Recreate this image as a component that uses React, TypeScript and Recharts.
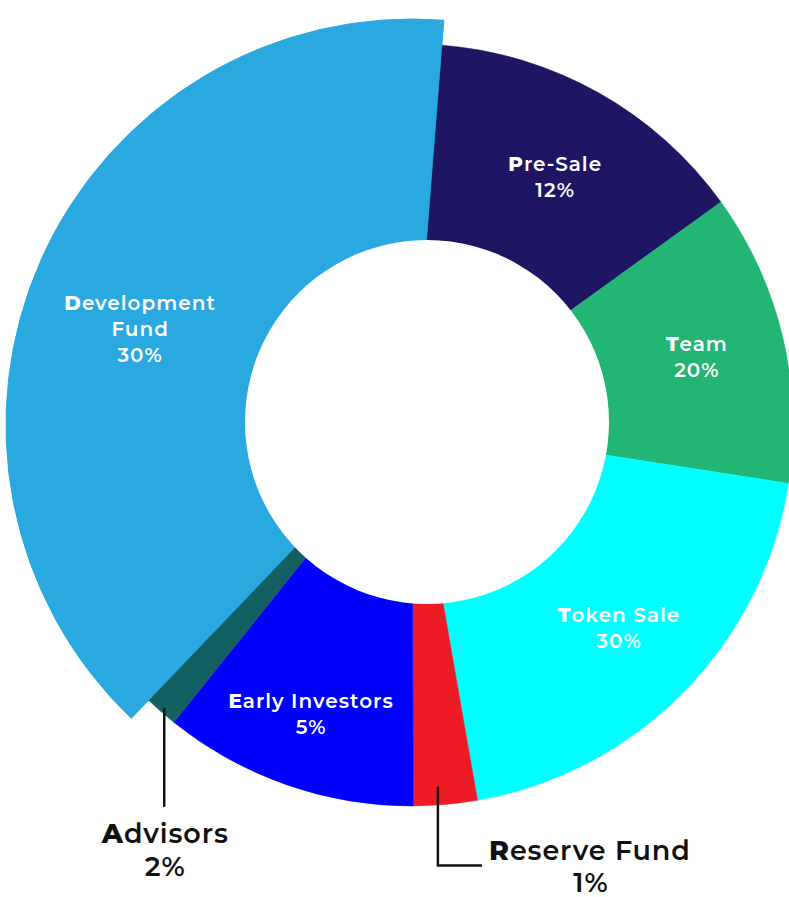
import { PieChart, Pie, Cell } from 'recharts';

const categories = ['Pre-Sale', 'Team', 'Token Sale', 'Reserve Fund', 'Early Investors', 'Advisors', 'Development Fund'];
// slice sizes as drawn (the printed percentages do not match the drawn angles)
const sliceValues = [13.8, 12.4, 19.8, 2.7, 10.8, 1.4, 39.1];
const shownPercents = ['12%', '20%', '30%', '1%', '5%', '2%', '30%'];
const labelLines = [['Pre-Sale'], ['Team'], ['Token Sale'], ['Reserve Fund'], ['Early Investors'], ['Advisors'], ['Development', 'Fund']];
const colors = ['#1e1563', '#22b573', '#00ffff', '#ed1c24', '#0000ff', '#136063', '#29a9e0'];

const data = categories.map((name, i) => ({ name, value: sliceValues[i] }));
const hole = [{ name: 'hole', value: 1 }];

const RAD = Math.PI / 180;
const FONT = 'Montserrat, Inter, "Noto Sans", sans-serif';
const CX = 412;
const CY = 425;

// where the inside labels sit (distance from centre) plus small hand nudges
const labelRadius: Record<number, number> = { 0: 286, 1: 293, 2: 290, 4: 306, 6: 288 };
const labelNudge: Record<number, [number, number]> = { 0: [3, 1], 6: [-9, 22] };

function FirstBold({ text }: { text: string }) {
  return (
    <>
      <tspan fontWeight={800}>{text[0]}</tspan>
      <tspan>{text.slice(1)}</tspan>
    </>
  );
}

const outerText = { fill: '#111', fontFamily: FONT, fontSize: 27, fontWeight: 600, letterSpacing: 0.9 };
const innerText = { fill: '#fff', fontFamily: FONT, fontSize: 20, fontWeight: 600, letterSpacing: 1 };

function renderLabel(props: any) {
  const { cx, cy, midAngle, index } = props;
  const polar = (r: number) => ({
    x: cx + r * Math.cos(-midAngle * RAD),
    y: cy + r * Math.sin(-midAngle * RAD),
  });

  if (index === 5) {
    // Advisors: straight line down, text below
    const p = polar(376);
    const endY = p.y + 99;
    return (
      <g key={`lbl-${index}`}>
        <line x1={p.x} y1={p.y} x2={p.x} y2={endY} stroke="#111" strokeWidth={2.5} />
        <text x={p.x + 1} y={endY + 36} textAnchor="middle" {...outerText}>
          <FirstBold text={labelLines[index][0]} />
        </text>
        <text x={p.x + 1} y={endY + 69} textAnchor="middle" {...outerText}>
          {shownPercents[index]}
        </text>
      </g>
    );
  }

  if (index === 3) {
    // Reserve Fund: elbow line down then right
    const p = polar(363);
    const x = p.x - 6;
    const endY = p.y + 79;
    return (
      <g key={`lbl-${index}`}>
        <polyline points={`${x},${p.y} ${x},${endY} ${x + 44},${endY}`} fill="none" stroke="#111" strokeWidth={2.5} />
        <text x={x + 152} y={p.y + 73} textAnchor="middle" {...outerText}>
          <FirstBold text={labelLines[index][0]} />
        </text>
        <text x={x + 153} y={p.y + 105} textAnchor="middle" {...outerText}>
          {shownPercents[index]}
        </text>
      </g>
    );
  }

  const c = polar(labelRadius[index] ?? 290);
  const [nx, ny] = labelNudge[index] ?? [0, 0];
  const lines = [...labelLines[index], shownPercents[index]];
  const step = 26;
  return (
    <g key={`lbl-${index}`}>
      {lines.map((ln, i) => (
        <text
          key={i}
          x={c.x + nx}
          y={c.y + ny + (i - (lines.length - 1) / 2) * step + 7}
          textAnchor="middle"
          {...innerText}
        >
          {i === 0 ? <FirstBold text={ln} /> : ln}
        </text>
      ))}
    </g>
  );
}

export default function App() {
  return (
    <div style={{ position: 'absolute', left: 0, top: 0, width: 789, height: 897, background: '#fff' }}>
      <PieChart width={789} height={897} margin={{ top: 0, right: 0, bottom: 0, left: 0 }}>
        {/* Development Fund sticks out further than the rest */}
        <Pie
          data={data}
          dataKey="value"
          cx={CX}
          cy={CY}
          innerRadius={160}
          outerRadius={406}
          startAngle={85.5}
          endAngle={-274.5}
          isAnimationActive={false}
          label={false}
          labelLine={false}
        >
          {data.map((d, i) => (
            <Cell key={d.name} fill={i === 6 ? colors[i] : 'transparent'} stroke={i === 6 ? colors[i] : 'none'} />
          ))}
        </Pie>
        <Pie
          data={data}
          dataKey="value"
          cx={CX}
          cy={CY}
          innerRadius={160}
          outerRadius={381}
          startAngle={85.5}
          endAngle={-274.5}
          isAnimationActive={false}
          label={renderLabel}
          labelLine={false}
        >
          {data.map((d, i) => (
            <Cell key={d.name} fill={colors[i]} stroke={colors[i]} strokeWidth={0.5} />
          ))}
        </Pie>
        <Pie
          data={hole}
          dataKey="value"
          cx={427}
          cy={422}
          outerRadius={182}
          isAnimationActive={false}
          label={false}
          labelLine={false}
        >
          <Cell fill="#fff" stroke="none" />
        </Pie>
      </PieChart>
    </div>
  );
}
